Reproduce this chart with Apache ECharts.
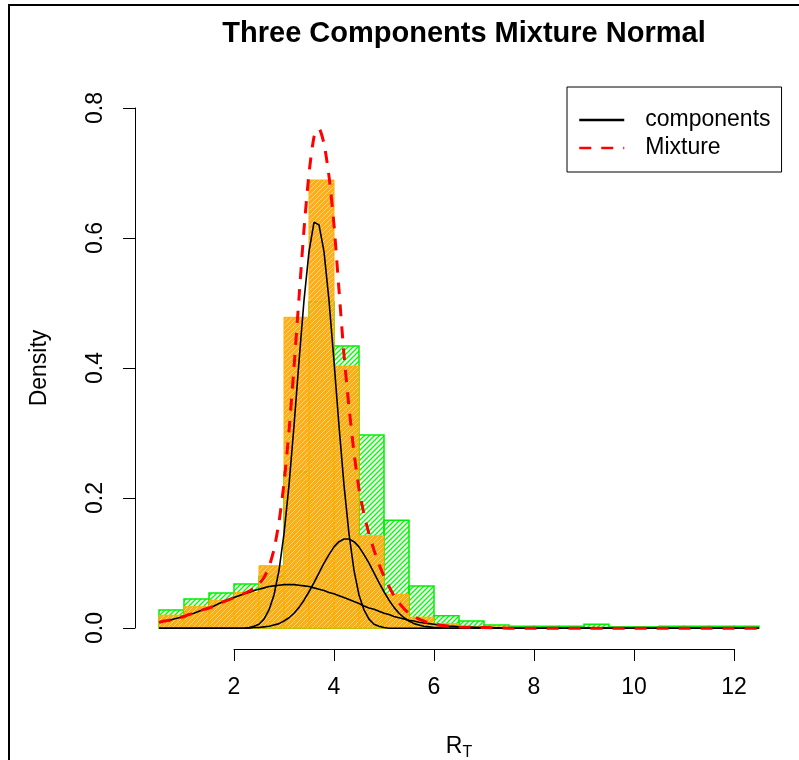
<!DOCTYPE html>
<html>
<head>
<meta charset="utf-8">
<script src="https://cdn.jsdelivr.net/npm/echarts@6/dist/echarts.min.js"></script>
<style>html,body{margin:0;padding:0;background:#fff}#c{width:799px;height:760px}</style>
</head>
<body>
<div id="c"></div>
<script>
// ---- data ----
const binStarts = [0.5,1.0,1.5,2.0,2.5,3.0,3.5,4.0,4.5,5.0,5.5,6.0,6.5,7.0,7.5,8.0,8.5,9.0,9.5,10.0,10.5,11.0,11.5,12.0];
const binEnds   = [1.0,1.5,2.0,2.5,3.0,3.5,4.0,4.5,5.0,5.5,6.0,6.5,7.0,7.5,8.0,8.5,9.0,9.5,10.0,10.5,11.0,11.5,12.0,12.5];
const greenDensity  = [0.028,0.045,0.054,0.068,0.080,0.240,0.502,0.434,0.297,0.166,0.065,0.019,0.011,0.005,0.003,0.003,0.003,0.006,0.002,0.002,0.003,0.003,0.003,0.003];
const orangeDensity = [0.020,0.033,0.043,0.055,0.096,0.478,0.689,0.403,0.142,0.052,0.017,0.007,0.003,0.002,0.001,0.001,0.001,0.001,0.001,0.001,0.001,0.001,0.001,0.001];

const curveX = [0.5,0.6,0.7,0.8,0.9,1.0,1.1,1.2,1.3,1.4,1.5,1.6,1.7,1.8,1.9,2.0,2.1,2.2,2.3,2.4,2.5,2.6,2.7,2.8,2.9,3.0,3.1,3.2,3.3,3.4,3.5,3.6,3.7,3.8,3.9,4.0,4.1,4.2,4.3,4.4,4.5,4.6,4.7,4.8,4.9,5.0,5.1,5.2,5.3,5.4,5.5,5.6,5.7,5.8,5.9,6.0,6.1,6.2,6.3,6.4,6.5,7.0,7.5,8.0,8.5,9.0,9.5,10.0,10.5,11.0,11.5,12.0,12.5];
const component1 = [0,0,0,0,0,0,0,0,0,0,0,0,0,0,0,0,0,
  0.000,0.001,0.003,0.006,0.014,0.028,0.051,0.089,0.145,0.220,0.311,0.410,0.504,0.579,0.624,0.620,0.579,0.504,0.410,0.311,0.220,0.145,0.089,0.051,0.028,0.014,0.006,0.003,0.001,0.000,
  0,0,0,0,0,0,0,0,0,0,0,0,0,0, 0,0,0,0,0,0,0,0,0,0,0,0];
const component2 = [0,0,0,0,0,0,0,0,0,0,0,0,0,0,0,0,0,0,
  0.000,0.001,0.001,0.002,0.003,0.005,0.007,0.011,0.016,0.023,0.032,0.043,0.056,0.070,0.085,0.100,0.113,0.125,0.133,0.137,0.137,0.133,0.125,0.113,0.100,0.085,0.070,0.056,0.043,0.032,0.023,0.016,0.011,0.007,0.005,0.003,0.002,0.001,0.001,0.000,
  0,0,0, 0,0,0,0,0,0,0,0,0,0,0,0];
const component3 = [0.009,0.011,0.012,0.014,0.016,0.018,0.021,0.023,0.026,0.029,0.031,0.034,0.038,0.041,0.044,0.047,0.050,0.053,0.055,0.058,0.060,0.062,0.064,0.065,0.066,0.067,0.067,0.067,0.066,0.065,0.064,0.062,0.060,0.058,0.055,0.053,0.050,0.047,0.044,0.041,0.038,0.034,0.031,0.029,0.026,0.023,0.021,0.018,0.016,0.014,0.012,0.011,0.009,0.008,0.007,0.006,0.005,0.004,0.003,0.003,0.002,
  0.001,0.000,0,0,0,0,0,0,0,0,0,0];
const mixture = [0.009,0.011,0.012,0.014,0.016,0.018,0.021,0.023,0.026,0.029,0.031,0.034,0.038,0.041,0.044,0.047,0.050,0.053,0.057,0.061,0.068,0.078,0.094,0.121,0.163,0.223,0.303,0.401,0.508,0.613,0.699,0.755,0.768,0.745,0.695,0.620,0.520,0.420,0.340,0.270,0.214,0.175,0.145,0.120,0.098,0.080,0.064,0.050,0.039,0.030,0.023,0.018,0.014,0.011,0.008,0.007,0.005,0.004,0.003,0.003,0.002,
  0.001,0.000,0,0,0,0,0,0,0,0,0,0];

const xTicks = [2,4,6,8,10,12];
const yTicks = [0,0.2,0.4,0.6,0.8];
const xRange = [0.02, 12.98];
const yRange = [-0.032, 0.832];

// ---- styling helpers ----
function hatch(bg, line, lw, size) {
  const c = document.createElement('canvas');
  c.width = size; c.height = size;
  const g = c.getContext('2d');
  if (bg) { g.fillStyle = bg; g.fillRect(0, 0, size, size); }
  g.strokeStyle = line; g.lineWidth = lw;
  g.beginPath();
  g.moveTo(0, size); g.lineTo(size, 0);
  g.moveTo(-size / 2, size / 2); g.lineTo(size / 2, -size / 2);
  g.moveTo(size / 2, size * 1.5); g.lineTo(size * 1.5, size / 2);
  g.stroke();
  return { image: c, repeat: 'repeat' };
}
const greenFill = hatch(null, '#00ff00', 1.4, 5);
const orangeFill = hatch('rgba(255,165,0,0.9)', 'rgba(255,222,150,0.9)', 1, 5);

function barRenderer(fill, stroke, lw) {
  return function (params, api) {
    const p0 = api.coord([api.value(0), api.value(2)]);
    const p1 = api.coord([api.value(1), 0]);
    return {
      type: 'rect',
      shape: { x: p0[0], y: p0[1], width: p1[0] - p0[0], height: p1[1] - p0[1] },
      style: { fill: fill, stroke: stroke, lineWidth: lw }
    };
  };
}
const pairs = ys => curveX.map((x, i) => [x, ys[i]]);

const FONT = 'Liberation Sans';
const FS = 23;
const chart = echarts.init(document.getElementById('c'), null, { renderer: 'canvas' });
chart.setOption({
  animation: false,
  backgroundColor: '#ffffff',
  title: {
    text: 'Three Components Mixture Normal',
    left: 459, top: 14, textAlign: 'center',
    textStyle: { fontFamily: FONT, fontWeight: 'bold', fontSize: 29, color: '#000' }
  },
  legend: {
    orient: 'vertical', left: 567, top: 87,
    padding: [19, 11, 10, 11],
    itemWidth: 45, itemHeight: 2, itemGap: 0,
    borderColor: '#000', borderWidth: 1, backgroundColor: '#fff',
    selectedMode: false,
    itemStyle: { opacity: 0 },
    textStyle: { fontFamily: FONT, fontSize: FS, color: '#000', lineHeight: 28, padding: [0, 0, 0, 16] },
    data: [
      { name: 'components', lineStyle: { width: 2.5 } },
      { name: 'Mixture', lineStyle: { width: 2.5 } }
    ]
  },
  graphic: [{
    type: 'rect', z: -10, silent: true,
    shape: { x: 9, y: 5, width: 1000, height: 1000 },
    style: { fill: 'none', stroke: '#000', lineWidth: 2 }
  }],
  grid: [
    { left: 135, right: 16, top: 87, bottom: 111, containLabel: false, outerBoundsMode: 'none' },
    { left: 234, right: 65, top: 87, bottom: 111, containLabel: false, outerBoundsMode: 'none' },
    { left: 135, right: 16, top: 108, bottom: 132, containLabel: false, outerBoundsMode: 'none' }
  ],
  xAxis: [
    { gridIndex: 0, type: 'value', min: xRange[0], max: xRange[1],
      axisLine: { show: false }, axisTick: { show: false }, axisLabel: { show: false }, splitLine: { show: false },
      name: '{a|R}{b|T}', nameLocation: 'middle', nameGap: 84,
      nameTextStyle: { rich: {
        a: { fontFamily: FONT, fontSize: FS, color: '#000' },
        b: { fontFamily: FONT, fontSize: 16, color: '#000', padding: [12, 0, 0, 0] }
      } } },
    { gridIndex: 1, type: 'value', min: xTicks[0], max: xTicks[xTicks.length - 1], interval: xTicks[1] - xTicks[0],
      axisLine: { show: true, onZero: false, lineStyle: { color: '#000', width: 1 } },
      axisTick: { show: true, inside: false, length: 12, lineStyle: { color: '#000' } },
      axisLabel: { show: true, margin: 27, fontFamily: FONT, fontSize: FS, color: '#000' },
      splitLine: { show: false } },
    { gridIndex: 2, type: 'value', show: false, min: 0, max: 1 }
  ],
  yAxis: [
    { gridIndex: 0, type: 'value', min: yRange[0], max: yRange[1],
      axisLine: { show: false }, axisTick: { show: false }, axisLabel: { show: false }, splitLine: { show: false },
      name: 'Density', nameLocation: 'middle', nameRotate: 90, nameGap: 84,
      nameTextStyle: { fontFamily: FONT, fontSize: FS, color: '#000' } },
    { gridIndex: 1, type: 'value', show: false, min: 0, max: 1 },
    { gridIndex: 2, type: 'value', min: yTicks[0], max: yTicks[yTicks.length - 1], interval: yTicks[1] - yTicks[0],
      axisLine: { show: true, onZero: false, lineStyle: { color: '#000', width: 1 } },
      axisTick: { show: true, inside: false, length: 12, lineStyle: { color: '#000' } },
      axisLabel: { show: true, rotate: 90, margin: 28, fontFamily: FONT, fontSize: FS, color: '#000',
        formatter: v => v.toFixed(1) },
      splitLine: { show: false } }
  ],
  series: [
    { type: 'custom', name: 'green', xAxisIndex: 0, yAxisIndex: 0, z: 1,
      renderItem: barRenderer(greenFill, '#00ee00', 1.5),
      encode: { x: [0, 1], y: 2 },
      data: binStarts.map((s, i) => [s, binEnds[i], greenDensity[i]]) },
    { type: 'custom', name: 'orange', xAxisIndex: 0, yAxisIndex: 0, z: 2,
      renderItem: barRenderer(orangeFill, '#ffb000', 1),
      encode: { x: [0, 1], y: 2 },
      data: binStarts.map((s, i) => [s, binEnds[i], orangeDensity[i]]) },
    { type: 'line', name: 'components', xAxisIndex: 0, yAxisIndex: 0, z: 3, symbol: 'none',
      lineStyle: { color: '#000', width: 1.6 }, itemStyle: { color: 'rgba(0,0,0,0)' }, data: pairs(component1) },
    { type: 'line', name: 'components', xAxisIndex: 0, yAxisIndex: 0, z: 3, symbol: 'none',
      lineStyle: { color: '#000', width: 1.6 }, itemStyle: { color: 'rgba(0,0,0,0)' }, data: pairs(component2) },
    { type: 'line', name: 'components', xAxisIndex: 0, yAxisIndex: 0, z: 3, symbol: 'none',
      lineStyle: { color: '#000', width: 1.6 }, itemStyle: { color: 'rgba(0,0,0,0)' }, data: pairs(component3) },
    { type: 'line', name: 'Mixture', xAxisIndex: 0, yAxisIndex: 0, z: 4, symbol: 'none', smooth: 0.2,
      lineStyle: { color: '#ff0000', width: 3, type: [12, 10] }, itemStyle: { color: 'rgba(255,0,0,0)' }, data: pairs(mixture) }
  ]
});
</script>
</body>
</html>
